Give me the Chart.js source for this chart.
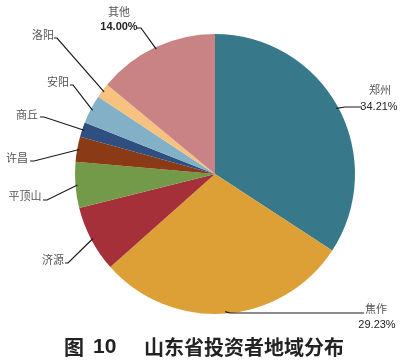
<!DOCTYPE html>
<html>
<head>
<meta charset="utf-8">
<script src="https://cdn.jsdelivr.net/npm/chart.js@4/dist/chart.umd.min.js"></script>
<style>
html,body{margin:0;padding:0;background:#fff;}
#wrap{position:relative;width:404px;height:361px;}
canvas{display:block;}
</style>
</head>
<body>
<div id="wrap"><canvas id="c" width="404" height="361"></canvas></div>
<script>
// ---- data ----
const categories = ['郑州', '焦作', '济源', '平顶山', '许昌', '商丘', '安阳', '洛阳', '其他'];
const shares = [34.21, 29.23, 7.65, 5.30, 2.90, 1.70, 3.30, 1.71, 14.00];
const showPercent = [true, true, false, false, false, false, false, false, true];
const titleParts = ['图', '10', '山东省投资者地域分布'];

// ---- styles / layout ----
const colors = ['#37798A', '#DCA036', '#A6303A', '#739A48', '#8A3A15', '#2E4F7F', '#82B0C6', '#F7C17F', '#C98384'];
// text anchor (tx,ty) and leader-line end (ex,ey) with elbow x (bx)
const labelLayout = [
  {tx: 380, ty: 90,  px: 379, py: 107, ex: 362, ey: 107, bx: 345},
  {tx: 376, ty: 309, px: 377, py: 325, ex: 364, ey: 313, bx: 230},
  {tx: 53,  ty: 260, ex: 65,  ey: 263, bx: 68},
  {tx: 25,  ty: 196, ex: 43,  ey: 200, bx: 47},
  {tx: 17,  ty: 158, ex: 30,  ey: 161, bx: 34},
  {tx: 27,  ty: 115, ex: 40,  ey: 117, bx: 44},
  {tx: 58,  ty: 82,  ex: 70,  ey: 85,  bx: 73},
  {tx: 43,  ty: 35,  ex: 54,  ey: 38,  bx: 57},
  {tx: 119, ty: 12,  px: 119, py: 27,  ex: 137, ey: 28,  bx: 141}
];

const labelPlugin = {
  id: 'pieLabels',
  afterDatasetsDraw(chart) {
    const ctx = chart.ctx;
    const meta = chart.getDatasetMeta(0);
    ctx.save();
    meta.data.forEach((arc, i) => {
      const p = arc.getProps(['x', 'y', 'startAngle', 'endAngle', 'outerRadius'], true);
      const mid = (p.startAngle + p.endAngle) / 2;
      const r = p.outerRadius - 2;
      const sx = p.x + Math.cos(mid) * r;
      const sy = p.y + Math.sin(mid) * r;
      const L = labelLayout[i];
      ctx.strokeStyle = '#1a1a1a';
      ctx.lineWidth = 1.2;
      ctx.beginPath();
      ctx.moveTo(sx, sy);
      ctx.lineTo(L.bx, L.ey);
      ctx.lineTo(L.ex, L.ey);
      ctx.stroke();
      ctx.textAlign = 'center';
      ctx.textBaseline = 'middle';
      ctx.fillStyle = '#555';
      ctx.font = '11px "Noto Sans CJK SC"';
      ctx.fillText(categories[i], L.tx, L.ty);
      if (showPercent[i]) {
        ctx.fillStyle = '#222';
        ctx.font = (i === 8 ? 'bold ' : '') + '11px "Liberation Sans", Arial';
        ctx.fillText(shares[i].toFixed(2) + '%', L.px, L.py);
      }
    });
    // title
    ctx.fillStyle = '#222';
    ctx.textAlign = 'left';
    ctx.textBaseline = 'middle';
    ctx.font = 'bold 20px "Noto Sans CJK SC"';
    ctx.fillText(titleParts[0], 64, 347);
    ctx.font = 'bold 21px "Liberation Sans", Arial';
    ctx.fillText(titleParts[1], 93, 347);
    ctx.font = 'bold 20px "Noto Sans CJK SC"';
    ctx.fillText(titleParts[2], 144, 347);
    ctx.restore();
  }
};

new Chart(document.getElementById('c'), {
  type: 'pie',
  data: {
    labels: categories,
    datasets: [{
      data: shares,
      backgroundColor: colors,
      borderWidth: 0
    }]
  },
  options: {
    responsive: false,
    animation: false,
    layout: {padding: {left: 75, right: 49, top: 34, bottom: 47}},
    plugins: {legend: {display: false}, tooltip: {enabled: false}, title: {display: false}}
  },
  plugins: [labelPlugin]
});
</script>
</body>
</html>
